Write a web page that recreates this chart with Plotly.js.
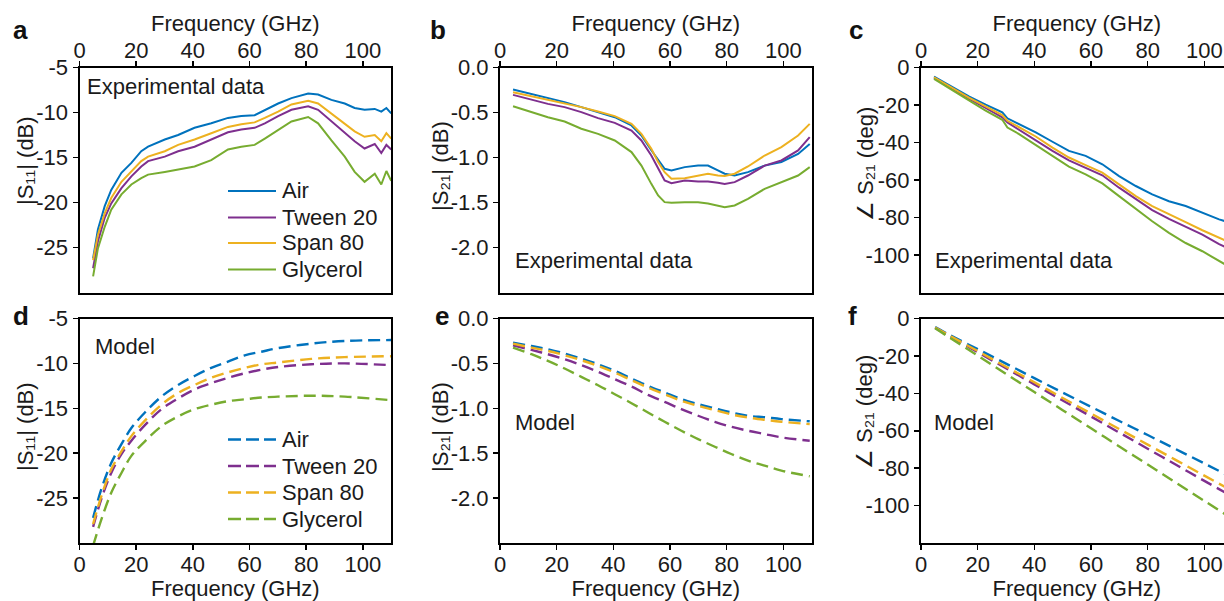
<!DOCTYPE html>
<html><head><meta charset="utf-8">
<script src="https://cdn.plot.ly/plotly-3.0.1.min.js"></script>
<style>
html,body{margin:0;padding:0;overflow:hidden;background:#fff;width:1224px;height:601px}
#chart{width:1250px;height:601px}
</style>
</head><body><div id="chart"></div>
<script>
// ---------- data ----------
const seriesNames = ['Air', 'Tween 20', 'Span 80', 'Glycerol'];
const seriesColors = ['#0072BD', '#7E2F8E', '#EDB120', '#77AC30'];

// (a) measured |S11| (dB)
const freqA = [4.8, 6.5, 8.9, 11.2, 14.8, 18.3, 21.8, 24.2, 30.1, 34.8, 40.6, 46.5, 52.4, 57.1, 61.8, 65.4, 70.1, 74.8, 80.7, 84.2, 88.9, 93.6, 97.1, 100.6, 104.2, 106.5, 108.3, 110];
const s11ExpAir      = [-26.2, -23.0, -20.4, -18.6, -16.7, -15.6, -14.3, -13.8, -13.0, -12.5, -11.7, -11.2, -10.6, -10.4, -10.3, -9.7, -9.0, -8.4, -7.9, -8.0, -8.6, -9.0, -9.5, -9.7, -9.6, -9.9, -9.5, -10.1];
const s11ExpTween    = [-27.3, -24.3, -21.7, -20.1, -18.4, -17.1, -16.0, -15.4, -14.9, -14.3, -13.8, -13.0, -12.2, -11.9, -11.7, -11.2, -10.4, -9.7, -9.3, -9.7, -11.0, -12.3, -13.2, -14.0, -13.5, -14.5, -13.6, -14.1];
const s11ExpSpan     = [-26.4, -23.6, -21.2, -19.5, -17.7, -16.6, -15.4, -14.9, -14.3, -13.6, -13.0, -12.3, -11.6, -11.3, -11.1, -10.6, -9.9, -9.1, -8.7, -9.0, -10.1, -11.2, -12.1, -12.7, -12.5, -13.2, -12.3, -12.9];
const s11ExpGlycerol = [-28.2, -25.1, -22.7, -20.8, -19.1, -18.0, -17.3, -16.9, -16.6, -16.3, -16.0, -15.3, -14.1, -13.8, -13.6, -12.9, -11.9, -11.0, -10.5, -11.2, -13.1, -14.9, -16.6, -17.7, -16.8, -18.0, -16.5, -17.6];

// (b) measured |S21| (dB)
const freqB = [4.6, 11.1, 16.9, 22.8, 28.7, 34.6, 40.5, 46.4, 49.9, 53.4, 55.8, 58.1, 60.5, 65.2, 69.9, 73.4, 76.9, 79.3, 82.8, 87.5, 93.4, 99.3, 105.2, 109.3];
const s21ExpAir      = [-0.244, -0.293, -0.337, -0.385, -0.44, -0.496, -0.552, -0.644, -0.756, -0.92, -1.03, -1.126, -1.144, -1.107, -1.09, -1.09, -1.144, -1.18, -1.2, -1.163, -1.09, -1.05, -0.96, -0.85];
const s21ExpTween    = [-0.304, -0.36, -0.404, -0.44, -0.496, -0.563, -0.615, -0.7, -0.811, -0.978, -1.126, -1.256, -1.285, -1.256, -1.267, -1.267, -1.28, -1.293, -1.274, -1.2, -1.09, -1.033, -0.922, -0.774];
const s21ExpSpan     = [-0.274, -0.319, -0.36, -0.393, -0.44, -0.489, -0.54, -0.626, -0.737, -0.904, -1.05, -1.163, -1.237, -1.23, -1.2, -1.18, -1.2, -1.205, -1.18, -1.1, -0.978, -0.885, -0.756, -0.626];
const s21ExpGlycerol = [-0.43, -0.496, -0.552, -0.6, -0.68, -0.737, -0.811, -0.94, -1.09, -1.293, -1.422, -1.496, -1.504, -1.496, -1.496, -1.51, -1.54, -1.552, -1.533, -1.46, -1.348, -1.274, -1.2, -1.107];

// (c) measured phase of S21 (deg)
const freqC = [4.6, 11.1, 16.9, 22.8, 28.7, 30.5, 34.6, 40.5, 46.4, 52.2, 58.1, 64.0, 69.9, 75.8, 81.6, 87.5, 93.4, 99.3, 105.2, 108];
const phExpAir      = [-4.8, -10.5, -15.4, -19.8, -23.9, -27.1, -30.2, -34.6, -39.6, -44.5, -47.1, -51.6, -57.9, -63.2, -67.7, -71.3, -73.9, -77.5, -81.0, -82.3];
const phExpTween    = [-5.4, -11.4, -16.6, -21.6, -26.6, -29.3, -33.2, -38.6, -44.5, -49.5, -53.4, -57.5, -64.1, -70.4, -76.1, -80.7, -85.0, -89.1, -94.2, -96.2];
const phExpSpan     = [-5.2, -11.1, -16.1, -20.7, -25.4, -28.4, -32.0, -36.8, -42.7, -48.0, -52.1, -56.1, -62.3, -68.6, -73.9, -78.4, -82.5, -86.8, -90.8, -92.6];
const phExpGlycerol = [-6.1, -12.3, -17.7, -23.0, -27.9, -32.0, -35.5, -41.4, -47.1, -52.9, -57.0, -61.8, -68.6, -75.4, -82.0, -88.2, -93.6, -98.0, -103.2, -105.6];

// (d) model |S11| (dB)
const freqD = [4.8, 7.7, 11.2, 14.8, 18.3, 23.0, 28.9, 34.8, 40.6, 46.5, 52.4, 58.3, 64.2, 70.1, 81.8, 93.6, 110];
const s11ModAir      = [-27.2, -24.0, -21.1, -19.0, -17.2, -15.5, -13.7, -12.4, -11.4, -10.5, -9.8, -9.1, -8.7, -8.3, -7.8, -7.5, -7.4];
const s11ModTween    = [-28.2, -25.1, -22.2, -20.1, -18.6, -16.9, -15.1, -13.9, -12.9, -12.2, -11.6, -11.1, -10.7, -10.4, -10.1, -10.0, -10.2];
const s11ModSpan     = [-27.9, -24.8, -21.8, -19.8, -18.1, -16.4, -14.6, -13.3, -12.4, -11.6, -11.0, -10.5, -10.1, -9.9, -9.5, -9.3, -9.2];
const s11ModGlycerol = [-30.3, -27.4, -24.4, -22.2, -20.3, -18.7, -17.0, -15.9, -15.1, -14.6, -14.2, -14.0, -13.8, -13.7, -13.6, -13.7, -14.1];

// (e) model |S21| (dB)
const freqE = [4.6, 11.1, 16.9, 22.8, 28.7, 34.6, 40.5, 46.4, 52.2, 58.1, 64.0, 69.9, 75.8, 81.6, 87.5, 93.4, 99.3, 109.3];
const s21ModAir      = [-0.27, -0.306, -0.343, -0.39, -0.446, -0.51, -0.583, -0.669, -0.75, -0.824, -0.898, -0.954, -1.0, -1.046, -1.083, -1.1, -1.12, -1.145];
const s21ModTween    = [-0.298, -0.35, -0.398, -0.454, -0.52, -0.594, -0.676, -0.757, -0.85, -0.928, -1.009, -1.083, -1.15, -1.206, -1.25, -1.287, -1.324, -1.361];
const s21ModSpan     = [-0.28, -0.324, -0.361, -0.409, -0.465, -0.528, -0.602, -0.687, -0.769, -0.843, -0.917, -0.972, -1.02, -1.068, -1.102, -1.128, -1.15, -1.176];
const s21ModGlycerol = [-0.324, -0.398, -0.472, -0.557, -0.65, -0.743, -0.843, -0.943, -1.046, -1.15, -1.25, -1.343, -1.428, -1.509, -1.583, -1.639, -1.694, -1.757];

// (f) model phase of S21 (deg)
const freqF = [5, 10, 20, 30, 40, 50, 60, 70, 80, 90, 100, 110];
const phModAir      = [-4.6, -8.7, -16.4, -24.1, -31.9, -39.6, -47.2, -54.8, -62.3, -69.9, -77.5, -85.2];
const phModTween    = [-5.0, -9.3, -18.0, -26.6, -35.2, -43.8, -52.4, -61.0, -69.6, -78.2, -86.8, -95.3];
const phModSpan     = [-4.9, -9.1, -17.4, -25.8, -34.1, -42.5, -50.8, -59.1, -67.4, -75.7, -84.0, -92.3];
const phModGlycerol = [-5.2, -10.1, -19.8, -29.6, -39.3, -49.0, -58.7, -68.4, -78.1, -87.8, -97.5, -107.2];

// tick labels
const freqTickVals = [0, 20, 40, 60, 80, 100];
const freqTickText = ['0', '20', '40', '60', '80', '100'];
const s11TickVals = [-25, -20, -15, -10, -5];
const s11TickText = ['-25', '-20', '-15', '-10', '-5'];
const s21TickVals = [-2.0, -1.5, -1.0, -0.5, 0.0];
const s21TickText = ['-2.0', '-1.5', '-1.0', '-0.5', '0.0'];
const phTickVals = [-100, -80, -60, -40, -20, 0];
const phTickText = ['-100', '-80', '-60', '-40', '-20', '0'];

const panelLetters = ['a', 'b', 'c', 'd', 'e', 'f'];
const yTitles = ['|S\u2081\u2081| (dB)', '|S\u2082\u2081| (dB)', '\u2220 S\u2082\u2081 (deg)', '|S\u2081\u2081| (dB)', '|S\u2082\u2081| (dB)', '\u2220 S\u2082\u2081 (deg)'];
const xTitle = 'Frequency (GHz)';

// ---------- layout helpers ----------
const W = 1250, H = 601;
const FONT = 'Liberation Sans, Arial, Helvetica, sans-serif';
const FS = 22;
const TXT = '#1a1a1a';
const px = v => v / W;
const py = v => 1 - v / H;

const colX = [[79.5, 391.2], [500, 811.7], [921, 1232.7]];
const rowY = [[67.5, 292.5], [318.5, 543]];
const yTitlePos = [[25, 161], [440, 166], [865, 164], [25, 427], [440, 427], [865, 412]];

const panels = [
  {freq: freqA, ys: [s11ExpAir, s11ExpTween, s11ExpSpan, s11ExpGlycerol], range: [-30, -5], tv: s11TickVals, tt: s11TickText, dashed: false},
  {freq: freqB, ys: [s21ExpAir, s21ExpTween, s21ExpSpan, s21ExpGlycerol], range: [-2.5, 0], tv: s21TickVals, tt: s21TickText, dashed: false},
  {freq: freqC, ys: [phExpAir, phExpTween, phExpSpan, phExpGlycerol], range: [-120, 0], tv: phTickVals, tt: phTickText, dashed: false},
  {freq: freqD, ys: [s11ModAir, s11ModTween, s11ModSpan, s11ModGlycerol], range: [-30, -5], tv: s11TickVals, tt: s11TickText, dashed: true},
  {freq: freqE, ys: [s21ModAir, s21ModTween, s21ModSpan, s21ModGlycerol], range: [-2.5, 0], tv: s21TickVals, tt: s21TickText, dashed: true},
  {freq: freqF, ys: [phModAir, phModTween, phModSpan, phModGlycerol], range: [-120, 0], tv: phTickVals, tt: phTickText, dashed: true}
];

const traces = [];
const layout = {
  width: W, height: H,
  margin: {l: 0, r: 0, t: 0, b: 0},
  paper_bgcolor: '#fff', plot_bgcolor: '#fff',
  showlegend: false,
  font: {family: FONT, size: FS, color: TXT},
  annotations: [], shapes: []
};

panels.forEach((p, i) => {
  const n = i + 1;
  const xa = 'x' + (n === 1 ? '' : n), ya = 'y' + (n === 1 ? '' : n);
  const col = i % 3, row = Math.floor(i / 3);
  p.ys.forEach((ys, k) => {
    traces.push({
      x: p.freq, y: ys, type: 'scatter', mode: 'lines', name: seriesNames[k],
      xaxis: xa, yaxis: ya,
      line: {color: seriesColors[k], width: p.dashed ? 2.4 : 2, dash: p.dashed ? '12px,6px' : 'solid', shape: p.dashed ? 'spline' : 'linear'},
      hoverinfo: 'skip'
    });
  });
  const axBase = {
    showline: true, linecolor: '#000', linewidth: 2, mirror: true,
    ticks: 'outside', ticklen: 5, tickwidth: 1.5, tickcolor: '#000',
    showgrid: false, zeroline: false, automargin: false,
    tickfont: {family: FONT, size: FS, color: TXT}
  };
  layout['xaxis' + (n === 1 ? '' : n)] = Object.assign({}, axBase, {
    domain: [px(colX[col][0]), px(colX[col][1])],
    anchor: ya, side: row === 0 ? 'top' : 'bottom',
    range: [0, 110], tickvals: freqTickVals, ticktext: freqTickText,
    ticklabelstandoff: row === 0 ? -6 : -4,
    title: {text: xTitle, font: {family: FONT, size: FS, color: TXT}, standoff: row === 0 ? 0 : 7}
  });
  layout['yaxis' + (n === 1 ? '' : n)] = Object.assign({}, axBase, {
    domain: [py(rowY[row][1]), py(rowY[row][0])],
    anchor: xa, range: p.range, tickvals: p.tv, ticktext: p.tt
  });
  // y-axis title (placed as rotated text beside the tick labels)
  layout.annotations.push({
    xref: 'paper', yref: 'paper', x: px(yTitlePos[i][0]), y: py(yTitlePos[i][1]),
    xanchor: 'center', yanchor: 'middle', textangle: -90, showarrow: false,
    text: yTitles[i], font: {family: FONT, size: FS, color: TXT}
  });
});

// panel letters
const letterPos = [[11, 30], [428, 30], [847, 30], [11, 316], [433, 316], [846, 316]];
panelLetters.forEach((L, i) => {
  layout.annotations.push({
    xref: 'paper', yref: 'paper', x: px(letterPos[i][0]), y: py(letterPos[i][1]),
    xanchor: 'left', yanchor: 'middle', showarrow: false,
    text: L, font: {family: FONT, size: 26, color: '#111', weight: 'bold'}
  });
});

// in-panel labels
const panelLabels = [
  ['Experimental data', 85, 87], ['Experimental data', 513, 260], ['Experimental data', 933, 260],
  ['Model', 93, 346], ['Model', 513, 422], ['Model', 932, 422]
];
panelLabels.forEach(([t, x, y]) => {
  layout.annotations.push({
    xref: 'paper', yref: 'paper', x: px(x), y: py(y), xanchor: 'left', yanchor: 'middle',
    showarrow: false, text: t, font: {family: FONT, size: FS, color: TXT}
  });
});

// legends (panels a and d)
const legendRows = [[191, 217.5, 243, 269.5], [439.5, 466, 492.5, 519]];
legendRows.forEach((rows, r) => {
  rows.forEach((yy, k) => {
    layout.shapes.push({
      type: 'line', xref: 'paper', yref: 'paper',
      x0: px(228), x1: px(276), y0: py(yy), y1: py(yy),
      line: {color: seriesColors[k], width: r === 0 ? 2 : 2.4, dash: r === 0 ? 'solid' : '13px,5px'}
    });
    layout.annotations.push({
      xref: 'paper', yref: 'paper', x: px(280), y: py(yy), xanchor: 'left', yanchor: 'middle',
      showarrow: false, text: seriesNames[k], font: {family: FONT, size: FS, color: TXT}
    });
  });
});

Plotly.newPlot('chart', traces, layout, {displayModeBar: false, staticPlot: true});
</script>
</body></html>
